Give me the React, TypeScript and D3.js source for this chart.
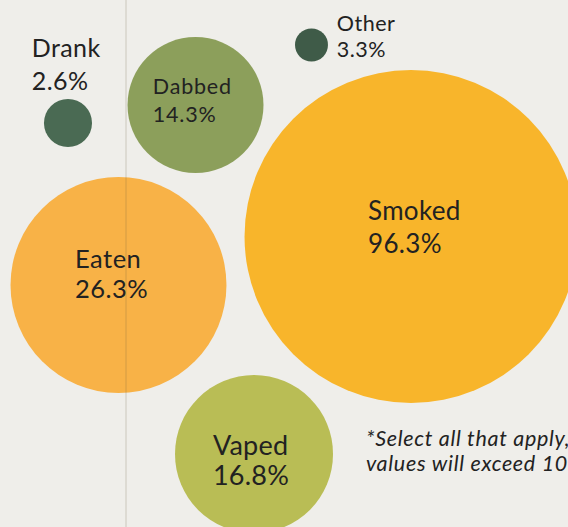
import React from "react";
import * as d3 from "d3";

// ---- data ----
const categories = ["Smoked", "Eaten", "Vaped", "Dabbed", "Other", "Drank"];
const values = [96.3, 26.3, 16.8, 14.3, 3.3, 2.6];
const footnote = ["*Select all that apply,", "values will exceed 100%"];

// ---- layout (design grid, in % of the canvas) ----
const bubbleX = [72.36, 20.86, 44.72, 34.42, 54.84, 11.97];
const bubbleY = [44.88, 54.08, 86.15, 19.92, 8.54, 23.34];
const bubbleR = [29.31, 19.01, 13.91, 11.97, 2.9, 4.23];
const labelX = [64.8, 13.2, 37.5, 26.9, 59.3, 5.6];
const labelY = [41.75, 50.85, 86.3, 17.85, 5.9, 10.8];
const labelSize = [26, 25.5, 27, 21.5, 21.5, 25];
const labelSpacing = [0.3, 0.5, 0.2, 0.8, 0.5, 0.4];
const labelGap = [33, 30, 30, 28, 26, 33];
const colors = ["#f8b52b", "#f8b247", "#b9bd55", "#8c9f5b", "#3f5b48", "#4a6a53"];

const W = 568;
const H = 527;

export default function App() {
  const x = d3.scaleLinear().domain([0, 100]).range([0, W]);
  const y = d3.scaleLinear().domain([0, 100]).range([0, H]);
  const fmt = (v: number) => d3.format(".1f")(v) + "%";
  const font = "Lato, 'Noto Sans', sans-serif";

  return (
    <svg
      width={W}
      height={H}
      viewBox={`0 0 ${W} ${H}`}
      style={{ position: "absolute", left: 0, top: 0, display: "block" }}
    >
      <rect width={W} height={H} fill="#efeeea" />
      {categories.map((c, i) => (
        <circle key={c} cx={x(bubbleX[i])} cy={y(bubbleY[i])} r={x(bubbleR[i])} fill={colors[i]} />
      ))}
      <line x1={126} x2={126} y1={0} y2={H} stroke="#6b5a40" strokeOpacity={0.22} strokeWidth={1.2} />
      {categories.map((c, i) => (
        <text
          key={c + "-l"}
          x={x(labelX[i])}
          y={y(labelY[i])}
          fontFamily={font}
          fontSize={labelSize[i]}
          letterSpacing={labelSpacing[i]}
          fill="#222222"
        >
          <tspan x={x(labelX[i])}>{c}</tspan>
          <tspan x={x(labelX[i])} dy={labelGap[i]}>
            {fmt(values[i])}
          </tspan>
        </text>
      ))}
      <text x={366} y={446} fontFamily={font} fontStyle="italic" fontSize={21.5} letterSpacing={0.7} fill="#222222">
        <tspan x={366}>{footnote[0]}</tspan>
        <tspan x={366} dy={25}>
          {footnote[1]}
        </tspan>
      </text>
    </svg>
  );
}
